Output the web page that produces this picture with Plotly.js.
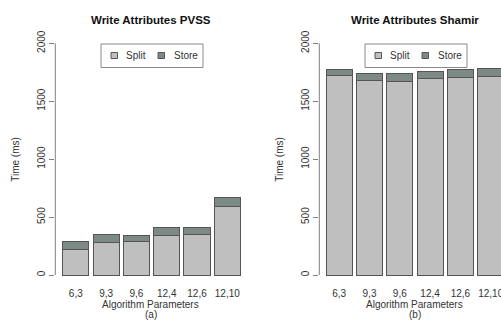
<!DOCTYPE html>
<html>
<head>
<meta charset="utf-8">
<script src="https://cdn.plot.ly/plotly-3.0.1.min.js"></script>
<style>html,body{margin:0;padding:0;background:#fff;}#chart{width:501px;height:320px;}</style>
</head>
<body>
<div id="chart"></div>
<script>
// ---- data ----
const categories = ['6,3', '9,3', '9,6', '12,4', '12,6', '12,10'];
const pvssSplit = [221, 282, 287, 342, 348, 589];
const pvssStore = [72, 71, 58, 66, 66, 78];
const shamirSplit = [1721, 1675, 1672, 1695, 1707, 1716];
const shamirStore = [55, 60, 63, 64, 63, 66];
const yTicks = [0, 500, 1000, 1500, 2000];
const seriesNames = ['Split', 'Store'];
const panelTitles = ['Write Attributes PVSS', 'Write Attributes Shamir'];
const panelLabels = ['(a)', '(b)'];

// ---- style ----
const W = 501, H = 320;
const splitColor = '#bfbfbf';
const storeColor = '#7c8985';
const edgeColor = '#555555';
const axisColor = '#808080';
const textColor = '#333333';
const FONT = 'Liberation Sans, Arial, sans-serif';
const px = v => v / W;
const py = v => 1 - v / H;

function bar(x, y, name, color, xa, ya) {
  return {
    type: 'bar', x: x, y: y, name: name, xaxis: xa, yaxis: ya,
    marker: {color: color, line: {color: edgeColor, width: 1}},
    showlegend: false, hoverinfo: 'skip'
  };
}

const data = [
  bar(categories, pvssSplit, seriesNames[0], splitColor, 'x', 'y'),
  bar(categories, pvssStore, seriesNames[1], storeColor, 'x', 'y'),
  bar(categories, shamirSplit, seriesNames[0], splitColor, 'x2', 'y2'),
  bar(categories, shamirStore, seriesNames[1], storeColor, 'x2', 'y2')
];

const plotTop = 34, plotBottom = 284.3;
const panels = [{left: 55.3, right: 246, xr: [-0.677, 5.617]},
                {left: 319.3, right: 501, xr: [-0.657, 5.34]}];

function xaxis(p, anchor) {
  return {
    domain: [px(p.left), px(p.right)], anchor: anchor, type: 'category',
    range: p.xr, showline: false, showgrid: false, zeroline: false,
    ticks: '', tickfont: {family: FONT, size: 10, color: textColor},
    ticklabelstandoff: 2, fixedrange: true
  };
}
function yaxis(anchor) {
  return {
    domain: [1 - plotBottom / H, 1 - plotTop / H], anchor: anchor,
    range: [-80, 2080], tickvals: yTicks, ticktext: yTicks.map(String),
    tickangle: -90, ticks: 'outside', ticklen: 5, tickcolor: axisColor, tickwidth: 1,
    showline: false, showgrid: false, zeroline: false,
    tickfont: {family: FONT, size: 10, color: textColor}, fixedrange: true
  };
}

const shapes = [];
const annotations = [];
panels.forEach((p, i) => {
  const xr = i === 0 ? 'x domain' : 'x2 domain';
  const yr = i === 0 ? 'y' : 'y2';
  shapes.push({type: 'line', xref: xr, yref: yr, x0: 0, x1: 0,
    y0: yTicks[0], y1: yTicks[yTicks.length - 1], line: {color: axisColor, width: 1}});
  const off = p.left - panels[0].left;
  // legend box
  shapes.push({type: 'rect', xref: 'paper', yref: 'paper',
    x0: px(101 + off), x1: px(203 + off), y0: py(44), y1: py(67.5),
    line: {color: '#888888', width: 1}, fillcolor: '#ffffff'});
  shapes.push({type: 'rect', xref: 'paper', yref: 'paper',
    x0: px(111 + off), x1: px(117.5 + off), y0: py(52.5), y1: py(58.5),
    line: {color: edgeColor, width: 1}, fillcolor: splitColor});
  shapes.push({type: 'rect', xref: 'paper', yref: 'paper',
    x0: px(158 + off), x1: px(164.5 + off), y0: py(52.5), y1: py(58.5),
    line: {color: edgeColor, width: 1}, fillcolor: storeColor});
  annotations.push({xref: 'paper', yref: 'paper', x: px(124 + off), y: py(55.7),
    xanchor: 'left', yanchor: 'middle', text: seriesNames[0], showarrow: false,
    font: {family: FONT, size: 10, color: textColor}});
  annotations.push({xref: 'paper', yref: 'paper', x: px(172 + off), y: py(55.7),
    xanchor: 'left', yanchor: 'middle', text: seriesNames[1], showarrow: false,
    font: {family: FONT, size: 10, color: textColor}});
  const cx = (p.left + (i === 0 ? p.right : 510)) / 2;
  annotations.push({xref: 'paper', yref: 'paper', x: px(cx + 0.3), y: py(20),
    xanchor: 'center', yanchor: 'middle', text: '<b>' + panelTitles[i] + '</b>', showarrow: false,
    font: {family: FONT, size: 11.5, color: '#111111'}});
  annotations.push({xref: 'paper', yref: 'paper', x: px(cx), y: py(304.5),
    xanchor: 'center', yanchor: 'middle', text: 'Algorithm Parameters', showarrow: false,
    font: {family: FONT, size: 10, color: textColor}});
  annotations.push({xref: 'paper', yref: 'paper', x: px(cx), y: py(314.5),
    xanchor: 'center', yanchor: 'middle', text: panelLabels[i], showarrow: false,
    font: {family: FONT, size: 10, color: textColor}});
  annotations.push({xref: 'paper', yref: 'paper', x: px(p.left - 40.5), y: py(159),
    xanchor: 'center', yanchor: 'middle', text: 'Time (ms)', textangle: -90, showarrow: false,
    font: {family: FONT, size: 10, color: textColor}});
});

const layout = {
  width: W, height: H, margin: {l: 0, r: 0, t: 0, b: 0},
  paper_bgcolor: '#ffffff', plot_bgcolor: '#ffffff',
  barmode: 'stack', bargap: 0.14, showlegend: false,
  xaxis: xaxis(panels[0], 'y'), yaxis: yaxis('x'),
  xaxis2: xaxis(panels[1], 'y2'), yaxis2: yaxis('x2'),
  shapes: shapes, annotations: annotations
};

Plotly.newPlot('chart', data, layout, {staticPlot: true, displayModeBar: false});
</script>
</body>
</html>
